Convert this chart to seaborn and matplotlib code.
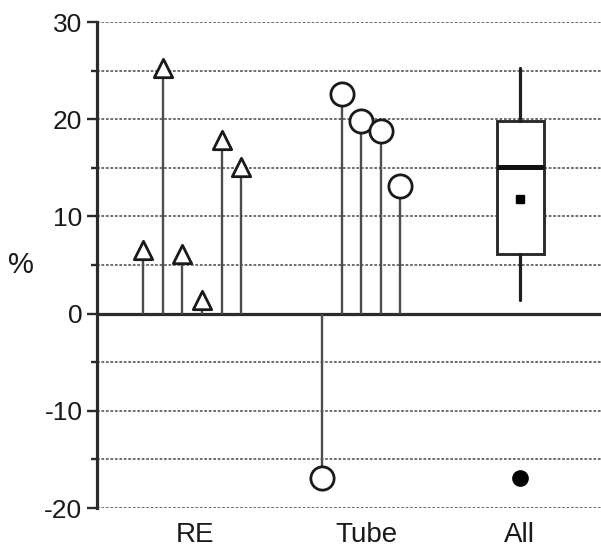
import numpy as np
import pandas as pd
import matplotlib
matplotlib.use("Agg")
import matplotlib.pyplot as plt
import seaborn as sns
from matplotlib.ticker import FixedLocator, MultipleLocator

# Percent change per measurement
groups = ["RE", "Tube", "All"]
re_values = [6.5, 25.3, 6.1, 1.4, 17.9, 15.1]
tube_values = [-16.9, 22.6, 19.8, 18.8, 13.1]
y_ticks = [-20, -10, 0, 10, 20, 30]

sns.set_theme(style="white")
plt.rcParams["font.family"] = ["Liberation Sans", "DejaVu Sans"]
plt.rcParams["axes.unicode_minus"] = False

# Horizontal layout: one x unit per stem spacing
x_max = 25.7
centers = {"RE": 4.85, "Tube": 13.47, "All": 21.58}
label_pos = [5.0, 13.72, 21.53]


def stem_x(center, n):
    return center + (np.arange(n) - (n - 1) / 2)


df = pd.DataFrame({
    "x": np.concatenate([stem_x(centers["RE"], len(re_values)),
                         stem_x(centers["Tube"], len(tube_values))]),
    "value": re_values + tube_values,
    "group": ["RE"] * len(re_values) + ["Tube"] * len(tube_values),
})

fig = plt.figure(figsize=(6.01, 5.56), dpi=100)
ax = fig.add_axes([97 / 601, 48 / 556, 504 / 601, 486 / 556])
ax.set_xlim(0, x_max)
ax.set_ylim(-20, 30)

# Dotted reference lines every 5 %
ax.yaxis.set_major_locator(FixedLocator(y_ticks))
ax.yaxis.set_minor_locator(MultipleLocator(5))
ax.grid(axis="y", which="both", color="#6f6f6f",
        linestyle=(0, (1.4, 0.9)), linewidth=1.4, zorder=0)
ax.grid(axis="x", visible=False)
ax.set_axisbelow(True)
ax.axhline(0, color="#2b2b2b", lw=2.3, zorder=2)

# Stems
ax.vlines(df["x"], 0, df["value"], color="#4d4d4d", lw=1.7, zorder=3)

# Stem heads
sns.scatterplot(data=df[df["group"] == "RE"], x="x", y="value", marker="^",
                s=175, color="white", edgecolor="#1a1a1a", linewidth=2.0,
                zorder=4, ax=ax, legend=False)
sns.scatterplot(data=df[df["group"] == "Tube"], x="x", y="value", marker="o",
                s=280, color="white", edgecolor="#1a1a1a", linewidth=2.0,
                zorder=4, ax=ax, legend=False)

# Box for all measurements pooled
all_values = df["value"].to_numpy()
q1, med, q3 = np.percentile(all_values, [25, 50, 75], method="weibull")
iqr = q3 - q1
lo, hi = q1 - 1.5 * iqr, q3 + 1.5 * iqr
inside = all_values[(all_values >= lo) & (all_values <= hi)]
stats = [dict(med=med, q1=q1, q3=q3,
              whislo=inside.min(), whishi=inside.max(),
              mean=all_values.mean(),
              fliers=all_values[(all_values < lo) | (all_values > hi)])]
ax.bxp(stats, positions=[centers["All"]], widths=2.4, showmeans=True,
       showcaps=False, patch_artist=True, manage_ticks=False, zorder=3,
       boxprops=dict(facecolor="white", edgecolor="#2b2b2b", linewidth=2.1),
       medianprops=dict(color="#111111", linewidth=3.6),
       whiskerprops=dict(color="#1f1f1f", linewidth=2.3),
       meanprops=dict(marker="s", markerfacecolor="black",
                      markeredgecolor="black", markersize=6),
       flierprops=dict(marker="o", markerfacecolor="black",
                       markeredgecolor="black", markersize=11))

# Axes styling
for side in ["top", "right", "bottom"]:
    ax.spines[side].set_visible(False)
ax.spines["left"].set_color("#2b2b2b")
ax.spines["left"].set_linewidth(2.3)

ax.set_xticks(label_pos, groups)
ax.tick_params(axis="x", length=0, pad=10, labelsize=20, colors="#1a1a1a")
ax.tick_params(axis="y", which="both", left=True, direction="out",
               color="#2b2b2b", width=1.7, labelsize=19, pad=3,
               labelcolor="#1a1a1a")
ax.tick_params(axis="y", which="major", length=7.5)
ax.tick_params(axis="y", which="minor", length=4.5)
ax.set_yticklabels([str(t) for t in y_ticks])
ax.set_xlabel("")
ax.set_ylabel("")

fig.text(21 / 601, 1 - 265 / 556, "%", fontsize=21, ha="center",
         va="center", color="#1a1a1a")

fig.savefig("out.png", dpi=100)
